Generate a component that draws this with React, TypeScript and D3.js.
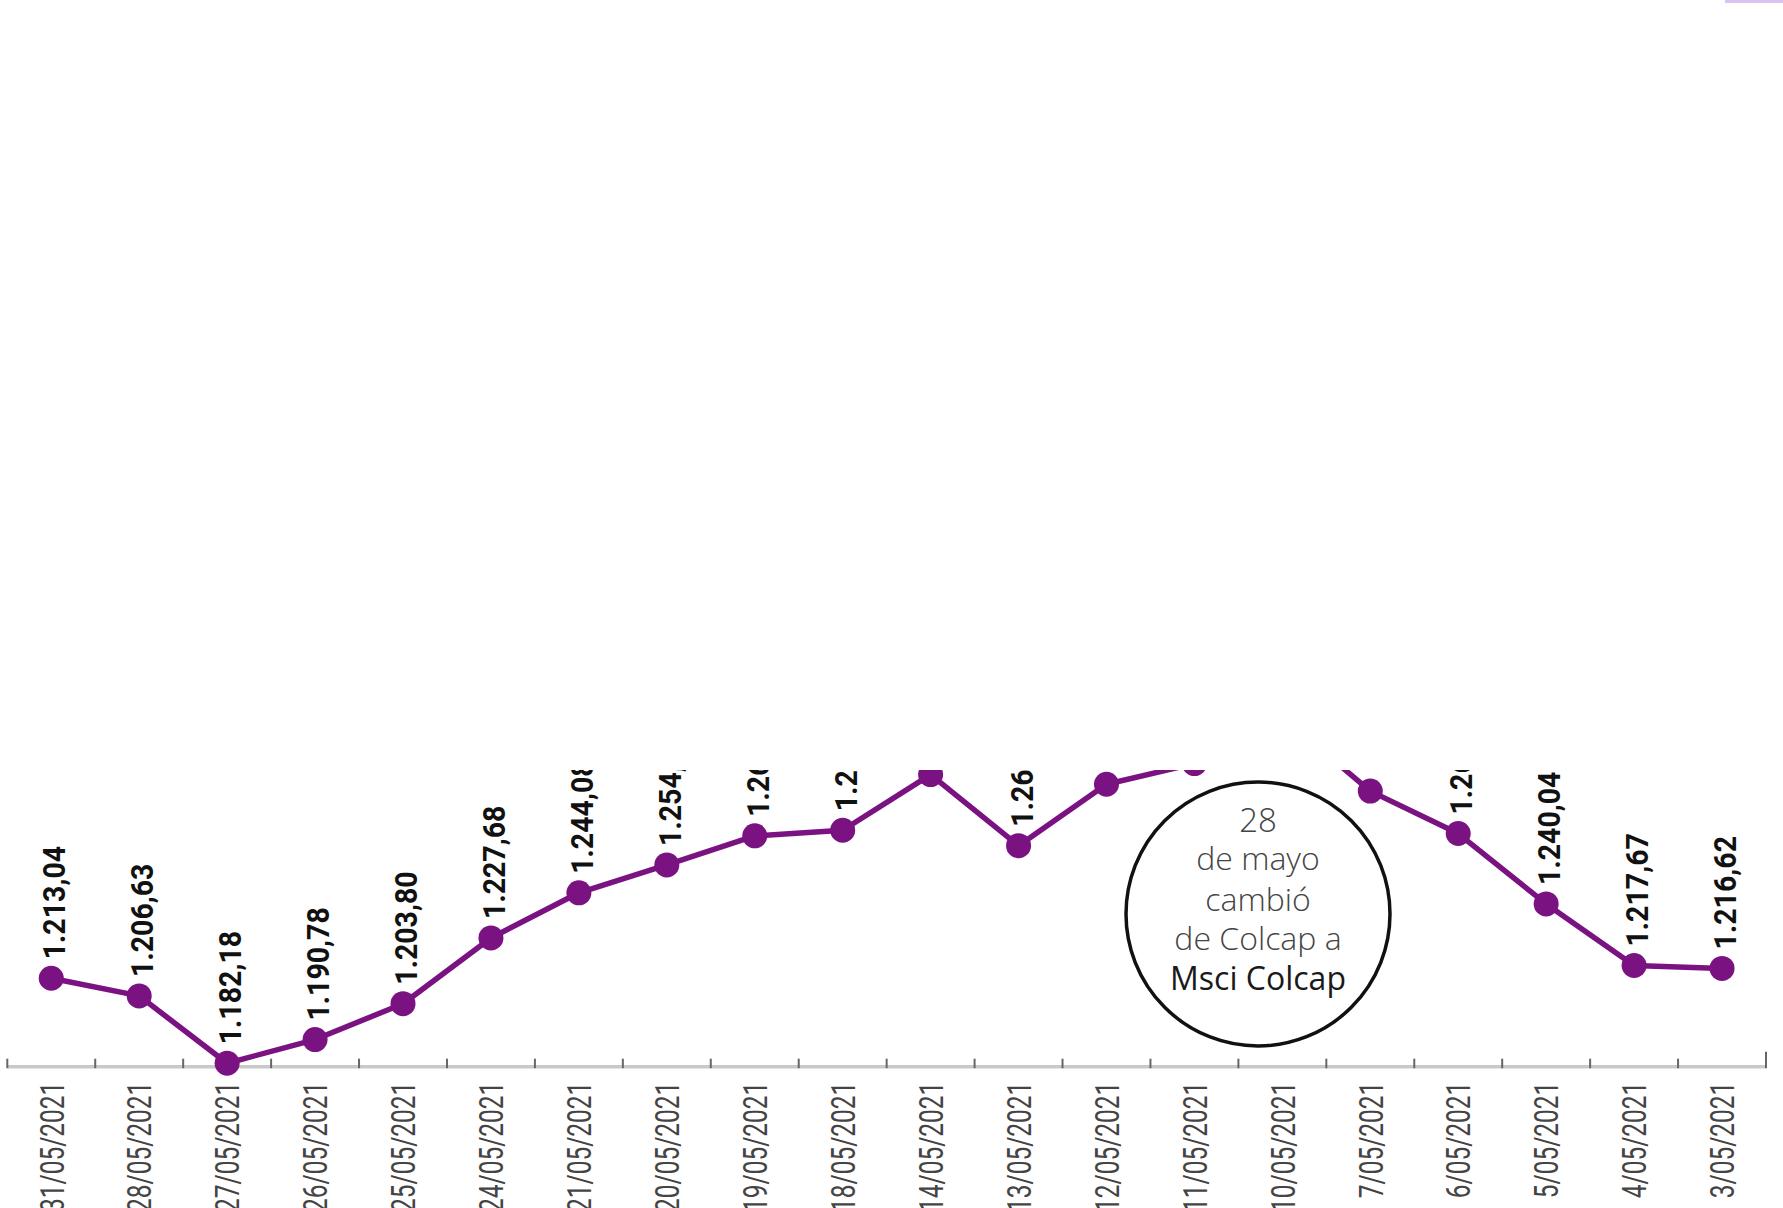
import React from "react";
import * as d3 from "d3";

// ---- Data ----
const dates = [
  "31/05/2021", "28/05/2021", "27/05/2021", "26/05/2021", "25/05/2021",
  "24/05/2021", "21/05/2021", "20/05/2021", "19/05/2021", "18/05/2021",
  "14/05/2021", "13/05/2021", "12/05/2021", "11/05/2021", "10/05/2021",
  "7/05/2021", "6/05/2021", "5/05/2021", "4/05/2021", "3/05/2021",
];
const values = [
  1213.04, 1206.63, 1182.18, 1190.78, 1203.8,
  1227.68, 1244.08, 1254.2, 1264.75, 1266.8,
  1287.0, 1261.2, 1283.5, 1291.0, 1308.0,
  1281.0, 1265.6, 1240.04, 1217.67, 1216.62,
];
const noteLines = ["28", "de mayo", "cambió", "de Colcap a"];
const noteLast = "Msci Colcap";

const W = 1783;
const H = 1208;
const PURPLE = "#7a1282";

const esLocale = d3.formatLocale({
  decimal: ",",
  thousands: ".",
  grouping: [3],
  currency: ["$", ""],
});
const fmt = esLocale.format(",.2f");

export default function App() {
  const x = d3.scaleBand<string>().domain(dates).range([7.3, 1766]).padding(0);
  const bw = x.bandwidth();
  const cx = (d: string) => (x(d) as number) + bw / 2;
  const y = d3.scaleLinear().domain([1181, 1300]).range([1066.5, 738.8]);
  const axisY = 1066.7;
  const clipTop = 770;

  const pts = dates.map((d, i) => ({ d, v: values[i] }));
  const line = d3
    .line<{ d: string; v: number }>()
    .x((p) => cx(p.d))
    .y((p) => y(p.v));

  const tickXs = [...dates.map((d) => x(d) as number), x.range()[1]];

  const circ = { x: 1258, y: 914, r: 132 };
  const noteOffsets = [-82, -44, -3, 36, 76];

  return (
    <div style={{ position: "absolute", left: 0, top: 0, width: W, height: H, background: "#fff" }}>
      <svg width={W} height={H} style={{ display: "block" }}>
        <defs>
          <clipPath id="plotClip">
            <rect x={0} y={clipTop} width={W} height={H - clipTop} />
          </clipPath>
        </defs>
        <rect x={0} y={0} width={W} height={H} fill="#fff" />
        <rect x={1725} y={0} width={W - 1725} height={3} fill="#dcc2f2" />

        {/* axis */}
        <line x1={x.range()[0]} x2={x.range()[1]} y1={axisY} y2={axisY} stroke="#c9c9c9" strokeWidth={3.5} />
        {tickXs.map((tx, i) => (
          <line
            key={"t" + i}
            x1={tx}
            x2={tx}
            y1={i === tickXs.length - 1 ? axisY - 15 : axisY - 8}
            y2={axisY + 1.5}
            stroke="#666"
            strokeWidth={2}
          />
        ))}
        {dates.map((d) => (
          <text
            key={"xl" + d}
            transform={`translate(${cx(d)},${axisY + 15}) rotate(-90) scale(0.72,1)`}
            textAnchor="end"
            dy="0.36em"
            fontFamily="Roboto, sans-serif"
            fontWeight={400}
            fontSize={34}
            fill="#444"
          >
            {d}
          </text>
        ))}

        {/* line, points, value labels */}
        <g clipPath="url(#plotClip)">
          <path d={line(pts) as string} fill="none" stroke={PURPLE} strokeWidth={5.5} strokeLinejoin="round" />
          {pts.map((p) => (
            <circle key={"c" + p.d} cx={cx(p.d)} cy={y(p.v)} r={12.5} fill={PURPLE} />
          ))}
          {pts.map((p) => (
            <text
              key={"vl" + p.d}
              transform={`translate(${cx(p.d) + 3},${y(p.v) - 19}) rotate(-90) scale(0.92,1)`}
              textAnchor="start"
              dy="0.36em"
              fontFamily="Roboto, sans-serif"
              fontWeight="bold"
              fontSize={31}
              fill="#111"
            >
              {fmt(p.v)}
            </text>
          ))}
        </g>

        {/* annotation */}
        <circle cx={circ.x} cy={circ.y} r={circ.r} fill="#fff" stroke="#111" strokeWidth={3.5} />
        {noteLines.map((t, i) => (
          <text
            key={"n" + i}
            x={circ.x}
            y={circ.y + noteOffsets[i]}
            textAnchor="middle"
            fontFamily="'Open Sans', 'Lato', sans-serif"
            fontWeight={300}
            fontSize={i === 0 ? 33 : 32}
            fill="#444"
          >
            {t}
          </text>
        ))}
        <text
          x={circ.x}
          y={circ.y + noteOffsets[4]}
          textAnchor="middle"
          fontFamily="'Open Sans', 'Lato', sans-serif"
          fontWeight={400}
          fontSize={32}
          fill="#1a1a1a"
        >
          {noteLast}
        </text>
      </svg>
    </div>
  );
}
